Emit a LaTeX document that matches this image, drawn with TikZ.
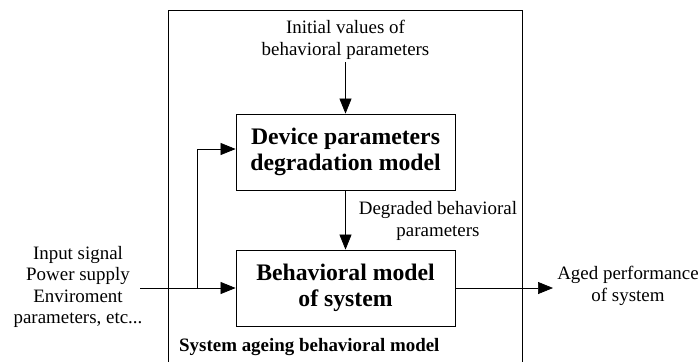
\documentclass[tikz,border=0pt]{standalone}
\usepackage{fontspec}
\setmainfont{Liberation Serif}
\usetikzlibrary{arrows.meta}
\begin{document}
\begin{tikzpicture}[x=1bp,y=-1bp,
  blk/.style={draw,line width=0.8bp,minimum width=219bp,minimum height=76bp,align=center,font=\fontsize{23.8}{26}\selectfont\bfseries,inner sep=0pt},
  lbl/.style={align=center,font=\fontsize{19}{21.5}\selectfont,inner sep=0pt},
  arr/.style={line width=0.7bp,-{Triangle[length=15bp,width=12bp]}},
  ln/.style={line width=0.7bp}]
\useasboundingbox (0,0) rectangle (699,361);
\begin{scope}
\clip (0,0) rectangle (699,361);
\draw[line width=0.8bp] (168,370) -- (168,10) -- (522,10) -- (522,370);
\end{scope}
\node[blk] (dev) at (345.5,152) {Device parameters\\degradation model};
\node[blk] (beh) at (345.5,288) {Behavioral model\\of system};
\node[lbl] (init) at (345.5,40) {Initial values of\\behavioral parameters};
\node[lbl] (deg) at (438,221) {Degraded behavioral\\parameters};
\node[lbl] (inp) at (78,287) {Input signal\\Power supply\\Enviroment\\parameters, etc...};
\node[lbl] (out) at (628,286) {Aged performance\\of system};
\node[font=\fontsize{19}{21}\selectfont\bfseries,inner sep=0pt,anchor=west] (sys) at (179,347) {System ageing behavioral model};
\coordinate (istart) at (140,288);
\coordinate (br) at (197,288);
\coordinate (itop) at (345.5,62);
\coordinate (oend) at (553,288);
\draw[arr] (itop) -- (dev.north);
\draw[arr] (dev.south) -- (beh.north);
\draw[arr] (istart) -- (beh.west);
\draw[arr] (br) |- (dev.west |- 0,149);
\draw[arr] (beh.east) -- (oend);
\end{tikzpicture}
\end{document}
